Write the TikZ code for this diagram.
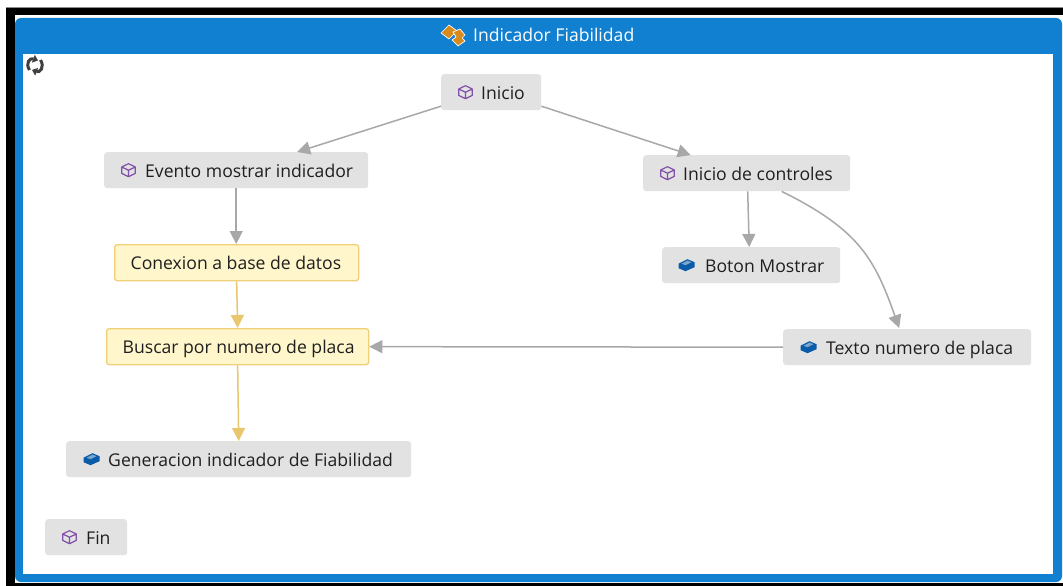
\documentclass[tikz,border=0pt]{standalone}
\usepackage{fontspec}
\setmainfont{Open Sans}
\usetikzlibrary{arrows.meta,calc}
\definecolor{panelblue}{HTML}{1280D0}
\definecolor{boxgray}{HTML}{E2E2E2}
\definecolor{edgegray}{HTML}{A8A8A8}
\definecolor{noteyellow}{HTML}{FFF6CC}
\definecolor{noteedge}{HTML}{EFCF78}
\definecolor{arrowyellow}{HTML}{E9C76F}
\definecolor{cubepurple}{HTML}{8150A8}
\definecolor{cubeblue}{HTML}{0B5CA8}
\definecolor{iconorange}{HTML}{D98A1E}
\tikzset{
  x=1pt,y=-1pt,
  every node/.style={font=\fontsize{17.6pt}{20pt}\selectfont,text=black!88,inner sep=0pt,anchor=north west,text height=14pt,text depth=0pt},
  graybox/.style={fill=boxgray,rounded corners=3pt,minimum height=36pt},
  notebox/.style={fill=noteyellow,draw=noteedge,line width=1.3pt,rounded corners=2.5pt,minimum height=36pt},
  greyline/.style={draw=edgegray,line width=1.5pt,-{Triangle[width=13pt,length=13pt,fill=edgegray]}},
  yellowline/.style={draw=arrowyellow,line width=1.5pt,-{Triangle[width=13pt,length=13pt,fill=arrowyellow]}},
  refresharc/.style={draw=black!75,line width=3pt,-{Triangle[width=8pt,length=5pt]}},
  pics/cubeline/.style={code={
    \draw[cubepurple,line width=1.2pt,line join=round]
      (0,-6.5)--(6.8,-3.2)--(6.8,3.2)--(0,6.5)--(-6.8,3.2)--(-6.8,-3.2)--cycle
      (-6.8,-3.2)--(0,0)--(6.8,-3.2) (0,0)--(0,6.5);}},
  pics/cubesolid/.style={code={
    \fill[cubeblue,line join=round] (-8,-1.5)--(1,-6)--(8,-3)--(8,2)--(-1,6)--(-8,3)--cycle;
    \fill[cubeblue!55!white] (-5,-1.5)--(1,-4.6)--(5,-3)--(-1,0)--cycle;}},
}
\begin{document}
\begin{tikzpicture}
\useasboundingbox (0,0) rectangle (1063,586);
\fill[white] (0,0) rectangle (1063,586);
\fill[black!45] (6,7) rectangle (1063,8);
\fill[black] (6,8) rectangle (1063,586);
\fill[white] (15,15) rectangle (1063,583);
\fill[panelblue,rounded corners=6pt] (15,18) rectangle (1062,582);
\fill[white] (23,54) rectangle (1053,574);
% refresh icon
\draw[refresharc] (29.5,70) .. controls (25,63) and (30,57.5) .. (38,60.5);
\draw[refresharc] (40.5,60) .. controls (45,67) and (40,73) .. (32,70);
% title
\node (title) at (473,27.5) {\textcolor{white}{Indicador Fiabilidad}};
\fill[iconorange,draw=white,line width=.7pt,line join=round] (441,33) -- (449,25) -- (457,31) -- (449,39) -- cycle;
\fill[iconorange,draw=white,line width=.7pt,line join=round] (453,32) -- (460,29) -- (465,35) -- (462,38) -- (465,41) -- (458,46) -- (452,40) -- (456,37) -- cycle;
% nodes
\node[graybox,minimum width=100pt] (ini) at (441,74) {\makebox[100pt][l]{\hspace*{40pt}Inicio}};
\node[graybox,minimum width=264pt] (ev) at (104,152) {\makebox[264pt][l]{\hspace*{41pt}Evento mostrar indicador}};
\node[graybox,minimum width=207pt] (ctl) at (643,155) {\makebox[207pt][l]{\hspace*{40pt}Inicio de controles}};
\node[notebox,minimum width=244pt] (con) at (114,244) {\makebox[244pt][l]{\hspace*{16pt}Conexion a base de datos}};
\node[notebox,minimum width=262pt] (bus) at (106,328) {\makebox[262pt][l]{\hspace*{16pt}Buscar por numero de placa}};
\node[graybox,minimum width=178pt] (bot) at (662,247) {\makebox[178pt][l]{\hspace*{43pt}Boton Mostrar}};
\node[graybox,minimum width=248pt] (txt) at (783,329) {\makebox[248pt][l]{\hspace*{43pt}Texto numero de placa}};
\node[graybox,minimum width=345pt] (gen) at (66,441) {\makebox[345pt][l]{\hspace*{42pt}Generacion indicador de Fiabilidad}};
\node[graybox,minimum width=82pt] (fin) at (45,519) {\makebox[82pt][l]{\hspace*{41pt}Fin}};
% icons
\pic at ($(ini.west)+(24.5,0)$) {cubeline};
\pic at ($(ev.west)+(24.5,0)$) {cubeline};
\pic at ($(ctl.west)+(24.5,0)$) {cubeline};
\pic at ($(fin.west)+(24.5,0)$) {cubeline};
\pic at ($(bot.west)+(24.5,0)$) {cubesolid};
\pic at ($(txt.west)+(25.5,0)$) {cubesolid};
\pic at ($(gen.west)+(25.5,0)$) {cubesolid};
% connectors
\draw[greyline] ($(ini.west)+(0,14)$) -- ($(ev.north)+(61,0)$);
\draw[greyline] ($(ini.east)+(0,14)$) -- ($(ctl.north)+(-56,0)$);
\draw[greyline] (ev.south) -- (ev.south |- con.north);
\draw[yellowline] (con.south) -- (bus.north);
\draw[yellowline] (bus.south) -- ($(gen.north)+(0,0)$);
\draw[greyline] ($(ctl.south)+(35,0)$) .. controls (860,230) and (875,260) .. ($(txt.north)+(-8,-1)$);
\draw[greyline] ($(ctl.south)+(1,0)$) -- ($(bot.north)+(-2,0)$);
\draw[greyline] (txt.west) -- (bus.east);
\end{tikzpicture}
\end{document}
